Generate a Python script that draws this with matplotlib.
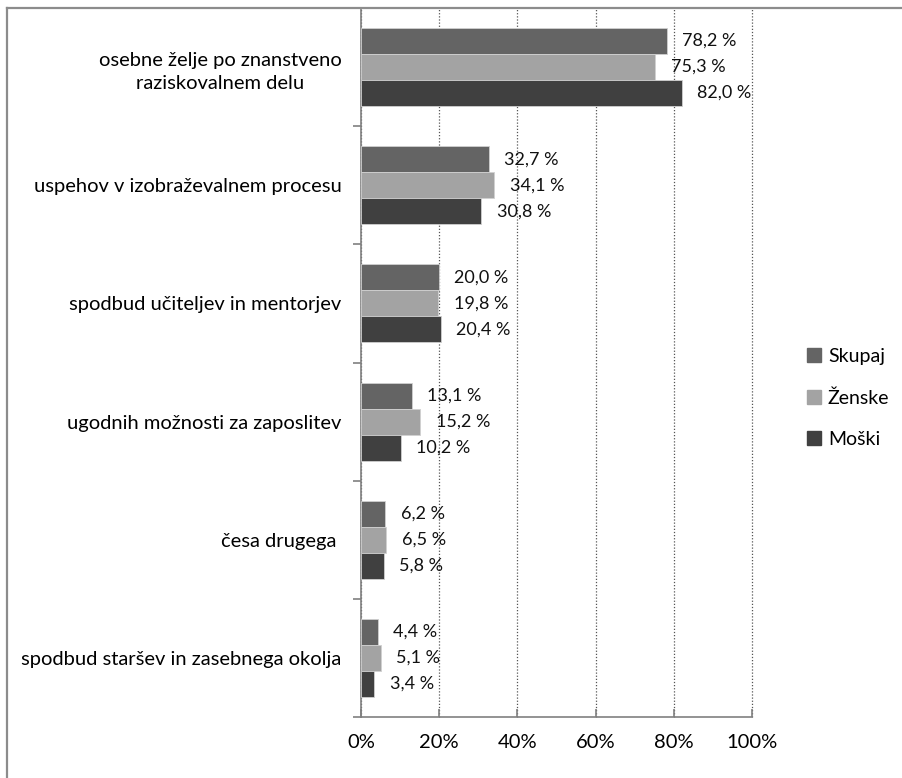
import matplotlib.pyplot as plt
import numpy as np
from matplotlib.patches import Rectangle
from matplotlib.lines import Line2D

plt.rcParams['font.family'] = ['Lato', 'DejaVu Sans']

categories = ['osebne želje po znanstveno\nraziskovalnem delu',
              'uspehov v izobraževalnem procesu',
              'spodbud učiteljev in mentorjev',
              'ugodnih možnosti za zaposlitev',
              'česa drugega ',
              'spodbud staršev in zasebnega okolja']
skupaj = [78.2, 32.7, 20.0, 13.1, 6.2, 4.4]
zenske = [75.3, 34.1, 19.8, 15.2, 6.5, 5.1]
moski = [82.0, 30.8, 20.4, 10.2, 5.8, 3.4]
series_names = ['Skupaj', 'Ženske', 'Moški']
colors = ['#646464', '#a3a3a3', '#404040']

fig = plt.figure(figsize=(9.03, 7.78), dpi=100)
ax = fig.add_axes([361 / 903, 1 - 717 / 778, 391 / 903, 709 / 778])

y = np.arange(len(categories))
h = 0.22
for i, (vals, name, c) in enumerate(zip([skupaj, zenske, moski], series_names, colors)):
    ax.barh(y + (i - 1) * h, vals, height=h, color=c, edgecolor='#d0d0d0',
            linewidth=0.6, label=name, zorder=3)
    for yy, v in zip(y + (i - 1) * h, vals):
        ax.annotate(f'{v:.1f} %'.replace('.', ','), (v, yy), xytext=(11, 0),
                    textcoords='offset points', va='center', ha='left',
                    fontsize=13, color='#111111', zorder=4)

ax.set_xlim(0, 100)
ax.set_ylim(len(categories) - 0.5, -0.5)
ax.set_xticks([0, 20, 40, 60, 80, 100])
ax.set_xticklabels(['0%', '20%', '40%', '60%', '80%', '100%'], fontsize=14.5)
ax.set_yticks(y)
ax.set_yticklabels(categories, fontsize=14.5, ha='right', multialignment='center',
                   linespacing=1.45)
ax.tick_params(axis='y', length=0, pad=14)
ax.set_yticks(np.arange(len(categories) + 1) - 0.5, minor=True)
ax.tick_params(axis='y', which='minor', length=6, color='#808080', width=1.2)
ax.tick_params(axis='x', length=6, color='#808080', width=1.2, direction='in', pad=12)
ax.grid(axis='x', linestyle=(0, (1, 1.5)), color='#555555', linewidth=0.9, zorder=0)
for gl in ax.get_xgridlines():
    gl.set_clip_on(False)
for s in ['top', 'right']:
    ax.spines[s].set_visible(False)
for s in ['left', 'bottom']:
    ax.spines[s].set_color('#808080')
    ax.spines[s].set_linewidth(1.2)

handles = [Rectangle((0, 0), 1, 1, color=c) for c in colors]
fig.legend(handles, series_names, loc='center left', bbox_to_anchor=(790 / 903, 1 - 398 / 778),
           frameon=False, fontsize=14, handlelength=0.7, handleheight=0.7,
           labelspacing=1.25, handletextpad=0.35)

# outer frame: only top and left edges
fig.lines.append(Line2D([7 / 903, 7 / 903], [0, 1 - 8 / 778], transform=fig.transFigure,
                        color='#8c8c8c', linewidth=1.6))
fig.lines.append(Line2D([7 / 903, 902 / 903], [1 - 8 / 778, 1 - 8 / 778], transform=fig.transFigure,
                        color='#8c8c8c', linewidth=1.6))

fig.savefig('out.png', dpi=100)
